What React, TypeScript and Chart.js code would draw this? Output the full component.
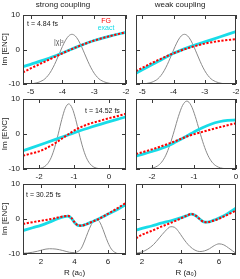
import React, { useEffect, useRef } from "react";
import { Chart, registerables } from "chart.js";
Chart.register(...registerables);

// ---------- data ----------
const COL_TITLES = ["strong coupling", "weak coupling"];
const TIME_LABELS = ["t = 4.84 fs", "t = 14.52 fs", "t = 30.25 fs"];
const SERIES_NAMES = ["FG", "exact", "|χ|²"];
const Y_TITLE = "Im [ENC]";
const X_TITLE = "R (a₀)";

const Y_TICKS = [-10, 0, 10];
const X_TICKS_ROW1 = [-5, -4, -3, -2];
const X_TICKS_ROW2 = [-2, -1, 0];
const X_TICKS_ROW3 = [2, 4, 6];

// strong coupling, t = 4.84 fs
const S1_RANGE = [-5.24, -2];
const S1_DENS_X = [-5.24, -5.0, -4.8, -4.6, -4.5, -4.4, -4.3, -4.2, -4.1, -4.0, -3.9, -3.8, -3.7, -3.6, -3.5, -3.4, -3.3, -3.2, -3.1, -3.0, -2.9, -2.8, -2.6, -2.4, -2.2, -2.0];
const S1_DENS_Y = [-10, -9.93, -9.65, -8.85, -8.05, -6.89, -5.32, -3.4, -1.27, 0.87, 2.71, 3.96, 4.4, 3.96, 2.71, 0.87, -1.27, -3.4, -5.32, -6.89, -8.05, -8.85, -9.65, -9.93, -10, -10];
const S1_FG_X = [-5.24, -5.0, -4.5, -4.0, -3.5, -3.0, -2.5, -2.0];
const S1_FG_Y = [-6.6, -5.5, -3.3, -1.1, 0.9, 2.6, 3.9, 5.0];
const S1_EX_X = [-5.24, -5.0, -4.5, -4.0, -3.5, -3.0, -2.5, -2.0];
const S1_EX_Y = [-5.0, -4.3, -2.8, -1.0, 0.9, 2.6, 3.9, 5.0];

// weak coupling, t = 4.84 fs
const W1_RANGE = [-5.2, -2];
const W1_DENS_X = [-5.2, -5.0, -4.75, -4.55, -4.45, -4.35, -4.25, -4.15, -4.05, -3.95, -3.85, -3.75, -3.65, -3.55, -3.45, -3.35, -3.25, -3.15, -3.05, -2.95, -2.85, -2.75, -2.55, -2.35, -2.15, -2.0];
const W1_DENS_Y = [-10, -9.95, -9.65, -8.85, -8.05, -6.89, -5.32, -3.4, -1.27, 0.87, 2.71, 3.96, 4.4, 3.96, 2.71, 0.87, -1.27, -3.4, -5.32, -6.89, -8.05, -8.85, -9.65, -9.93, -10, -10];
const W1_FG_X = [-5.2, -5.0, -4.5, -4.0, -3.5, -3.0, -2.5, -2.0];
const W1_FG_Y = [-6.3, -5.3, -3.1, -1.1, 0.5, 1.7, 2.5, 3.0];
const W1_EX_X = [-5.2, -5.0, -4.5, -4.0, -3.5, -3.0, -2.5, -2.0];
const W1_EX_Y = [-6.9, -5.9, -3.5, -1.1, 0.7, 2.2, 3.7, 5.2];

// strong coupling, t = 14.52 fs
const S2_RANGE = [-2.46, 0.49];
const S2_DENS_X = [-2.46, -2.2, -2.05, -1.95, -1.85, -1.75, -1.65, -1.55, -1.45, -1.35, -1.25, -1.15, -1.05, -0.95, -0.85, -0.75, -0.65, -0.55, -0.45, -0.35, -0.25, -0.1, 0.2, 0.49];
const S2_DENS_Y = [-10, -10, -9.93, -9.77, -9.35, -8.42, -6.65, -3.79, 0.03, 4.14, 7.37, 8.6, 7.37, 4.14, 0.03, -3.79, -6.65, -8.42, -9.35, -9.77, -9.93, -10, -10, -10];
const S2_FG_X = [-2.46, -2.2, -2.0, -1.8, -1.6, -1.4, -1.15, -0.9, -0.7, -0.5, -0.25, 0, 0.2, 0.49];
const S2_FG_Y = [-6.2, -5.5, -4.95, -4.1, -3.0, -1.7, 0, 1.5, 2.4, 3.1, 3.8, 4.5, 5.0, 5.8];
const S2_EX_X = [-2.46, -1.8, -1.15, -0.5, 0.49];
const S2_EX_Y = [-4.8, -2.5, -0.2, 2.0, 4.9];

// weak coupling, t = 14.52 fs
const W2_RANGE = [-2.38, 0];
const W2_DENS_X = [-2.38, -2.17, -2.07, -1.97, -1.87, -1.77, -1.67, -1.57, -1.47, -1.37, -1.27, -1.17, -1.07, -0.97, -0.87, -0.77, -0.67, -0.57, -0.47, -0.37, -0.27, -0.17, 0];
const W2_DENS_Y = [-10, -9.97, -9.89, -9.67, -9.15, -8.05, -6.06, -3.0, 0.93, 5.03, 8.2, 9.4, 8.2, 5.03, 0.93, -3.0, -6.06, -8.05, -9.15, -9.67, -9.89, -9.97, -10];
const W2_FG_X = [-2.38, -2.0, -1.5, -1.17, -0.8, -0.4, 0];
const W2_FG_Y = [-5.7, -4.4, -2.3, -0.7, 0.6, 1.9, 3.1];
const W2_EX_X = [-2.38, -2.0, -1.7, -1.5, -1.3, -1.17, -1.0, -0.8, -0.6, -0.4, -0.2, 0];
const W2_EX_Y = [-6.3, -5.0, -3.8, -2.7, -1.4, -0.6, 0.6, 1.8, 2.8, 3.5, 3.9, 4.0];

// strong coupling, t = 30.25 fs
const S3_RANGE = [0.93, 7.07];
const S3_DENS_X = [0.93, 1.2, 1.5, 1.8, 2.1, 2.5, 2.9, 3.3, 3.7, 4.0, 4.2, 4.4, 4.6, 4.8, 5.0, 5.15, 5.3, 5.45, 5.6, 5.8, 6.0, 6.2, 6.4, 6.6, 7.07];
const S3_DENS_Y = [-9.8, -9.7, -9.5, -9.2, -8.8, -8.5, -8.6, -9.0, -9.5, -9.6, -9.3, -8.4, -6.3, -3.8, -1.6, -0.4, -0.1, -0.5, -1.8, -4.3, -6.8, -8.6, -9.5, -9.9, -10];
const S3_FG_X = [0.93, 1.5, 2.0, 2.5, 3.0, 3.4, 3.6, 3.8, 4.0, 4.2, 4.4, 4.7, 5.0, 5.3, 5.6, 6.0, 6.5, 7.07];
const S3_FG_Y = [-1.4, -0.9, -0.5, -0.1, 0.4, 0.8, 0.9, 0.4, -0.9, -1.8, -1.9, -1.5, -0.9, -0.3, 0.4, 1.5, 2.9, 4.6];
const S3_EX_X = [0.93, 1.5, 2.0, 2.5, 3.0, 3.4, 3.6, 3.8, 4.0, 4.2, 4.4, 4.7, 5.0, 5.3, 5.6, 6.0, 6.5, 7.07];
const S3_EX_Y = [-3.3, -2.5, -1.8, -0.9, 0.1, 0.7, 0.85, 0.3, -1.0, -1.8, -1.9, -1.5, -0.9, -0.3, 0.4, 1.4, 2.6, 4.2];

// weak coupling, t = 30.25 fs
const W3_RANGE = [1.69, 6.88];
const W3_DENS_X = [1.69, 2.0, 2.3, 2.6, 2.9, 3.2, 3.5, 3.7, 3.9, 4.1, 4.3, 4.5, 4.75, 5.0, 5.25, 5.5, 5.75, 6.0, 6.25, 6.5, 6.7, 6.88];
const W3_DENS_Y = [-9.8, -9.4, -8.6, -7.3, -5.4, -3.5, -2.2, -2.4, -3.6, -5.2, -6.7, -7.9, -8.9, -9.3, -9.1, -8.5, -7.6, -7.1, -7.4, -8.3, -9.1, -9.8];
const W3_FG_X = [1.69, 2.0, 2.5, 3.0, 3.5, 4.0, 4.3, 4.55, 4.75, 5.0, 5.2, 5.4, 5.7, 6.0, 6.4, 6.88];
const W3_FG_Y = [-5.5, -4.5, -3.4, -2.2, -1.1, 0.1, 0.9, 1.4, 1.1, 0.0, -0.8, -0.9, -0.5, 0.1, 1.1, 2.4];
const W3_EX_X = [1.69, 2.0, 2.5, 3.0, 3.5, 4.0, 4.3, 4.55, 4.75, 5.0, 5.2, 5.4, 5.7, 6.0, 6.4, 6.88];
const W3_EX_Y = [-3.2, -2.7, -2.0, -1.2, -0.5, 0.3, 0.9, 1.4, 1.1, 0.0, -0.8, -0.9, -0.4, 0.3, 1.4, 3.1];

// ---------- layout / style ----------
const FONT = "'Liberation Sans', Arial, Helvetica, sans-serif";
const RED = "#ff0000";
const CYAN = "#18dce8";
const GRAY = "#8a8a8a";
const FRAME = "#3a3a3a";
const TEXT = "#1a1a1a";

type Note = { text: string; dx: number; dy: number; color: string; align: CanvasTextAlign };

type PanelDef = {
  left: number; top: number; width: number; height: number;
  yAxisW: number; xAxisH: number; padTop: number; padRight: number;
  range: number[]; xTicks: number[];
  dens: [number[], number[]]; fg: [number[], number[]]; ex: [number[], number[]];
  showYLabels: boolean; title?: string; xTitle: boolean; notes: Note[];
};

const LEFT = { left: 0, width: 132, yAxisW: 23, padRight: 6, showYLabels: true };
const RIGHT = { left: 124, width: 116, yAxisW: 12, padRight: 4, showYLabels: false };
const ROW1 = { top: 0, height: 100, padTop: 0, xAxisH: 16 };
const ROW2 = { top: 88, height: 94, padTop: 11, xAxisH: 13 };
const ROW3 = { top: 174, height: 105, padTop: 10, xAxisH: 25 };

const PANELS: PanelDef[] = [
  {
    ...LEFT, ...ROW1, range: S1_RANGE, xTicks: X_TICKS_ROW1,
    dens: [S1_DENS_X, S1_DENS_Y], fg: [S1_FG_X, S1_FG_Y], ex: [S1_EX_X, S1_EX_Y],
    title: COL_TITLES[0], xTitle: false,
    notes: [
      { text: TIME_LABELS[0], dx: 4, dy: 9, color: TEXT, align: "left" },
      { text: SERIES_NAMES[0], dx: 83, dy: 6, color: RED, align: "center" },
      { text: SERIES_NAMES[1], dx: 83, dy: 13, color: CYAN, align: "center" },
      { text: SERIES_NAMES[2], dx: 31, dy: 27, color: "#555", align: "left" },
    ],
  },
  {
    ...RIGHT, ...ROW1, range: W1_RANGE, xTicks: X_TICKS_ROW1,
    dens: [W1_DENS_X, W1_DENS_Y], fg: [W1_FG_X, W1_FG_Y], ex: [W1_EX_X, W1_EX_Y],
    title: COL_TITLES[1], xTitle: false, notes: [],
  },
  {
    ...LEFT, ...ROW2, range: S2_RANGE, xTicks: X_TICKS_ROW2,
    dens: [S2_DENS_X, S2_DENS_Y], fg: [S2_FG_X, S2_FG_Y], ex: [S2_EX_X, S2_EX_Y],
    xTitle: false,
    notes: [{ text: TIME_LABELS[1], dx: 62, dy: 12, color: TEXT, align: "left" }],
  },
  {
    ...RIGHT, ...ROW2, range: W2_RANGE, xTicks: X_TICKS_ROW2,
    dens: [W2_DENS_X, W2_DENS_Y], fg: [W2_FG_X, W2_FG_Y], ex: [W2_EX_X, W2_EX_Y],
    xTitle: false, notes: [],
  },
  {
    ...LEFT, ...ROW3, range: S3_RANGE, xTicks: X_TICKS_ROW3,
    dens: [S3_DENS_X, S3_DENS_Y], fg: [S3_FG_X, S3_FG_Y], ex: [S3_EX_X, S3_EX_Y],
    xTitle: true,
    notes: [{ text: TIME_LABELS[2], dx: 3, dy: 11, color: TEXT, align: "left" }],
  },
  {
    ...RIGHT, ...ROW3, range: W3_RANGE, xTicks: X_TICKS_ROW3,
    dens: [W3_DENS_X, W3_DENS_Y], fg: [W3_FG_X, W3_FG_Y], ex: [W3_EX_X, W3_EX_Y],
    xTitle: true, notes: [],
  },
];

const pts = (xs: number[], ys: number[]) => xs.map((x, i) => ({ x, y: ys[i] }));

function makeChart(canvas: HTMLCanvasElement, p: PanelDef) {
  const frame = {
    id: "frame",
    afterDraw(chart: any) {
      const { ctx, chartArea: a, scales } = chart;
      ctx.save();
      ctx.strokeStyle = FRAME;
      ctx.lineWidth = 1;
      ctx.strokeRect(Math.round(a.left) + 0.5, Math.round(a.top) + 0.5, Math.round(a.right - a.left) - 1, Math.round(a.bottom - a.top) - 1);
      ctx.beginPath();
      for (const t of scales.x.ticks) {
        const px = Math.round(scales.x.getPixelForValue(t.value)) + 0.5;
        ctx.moveTo(px, a.bottom); ctx.lineTo(px, a.bottom - 4);
        ctx.moveTo(px, a.top); ctx.lineTo(px, a.top + 4);
      }
      for (const t of scales.y.ticks) {
        const py = Math.round(scales.y.getPixelForValue(t.value)) + 0.5;
        ctx.moveTo(a.left, py); ctx.lineTo(a.left + 4, py);
        ctx.moveTo(a.right, py); ctx.lineTo(a.right - 4, py);
      }
      ctx.stroke();
      ctx.font = `7px ${FONT}`;
      ctx.textBaseline = "middle";
      for (const n of p.notes) {
        ctx.fillStyle = n.color;
        ctx.textAlign = n.align;
        ctx.fillText(n.text, a.left + n.dx, a.top + n.dy);
      }
      ctx.restore();
    },
  };

  const common = { pointRadius: 0, fill: false, cubicInterpolationMode: "monotone" as const };

  return new Chart(canvas, {
    type: "line",
    data: {
      datasets: [
        { label: SERIES_NAMES[0], data: pts(p.fg[0], p.fg[1]), borderColor: RED, borderWidth: 2, borderDash: [2.2, 1.6], ...common },
        { label: SERIES_NAMES[1], data: pts(p.ex[0], p.ex[1]), borderColor: CYAN, borderWidth: 2.8, ...common },
        { label: SERIES_NAMES[2], data: pts(p.dens[0], p.dens[1]), borderColor: GRAY, borderWidth: 1, ...common },
      ],
    },
    options: {
      animation: false,
      responsive: false,
      maintainAspectRatio: false,
      devicePixelRatio: 1,
      layout: { padding: { top: p.padTop, right: p.padRight, left: 0, bottom: 0 } },
      plugins: {
        legend: { display: false },
        tooltip: { enabled: false },
        title: {
          display: !!p.title,
          text: p.title || "",
          color: TEXT,
          font: { family: FONT, size: 8, weight: "normal" },
          padding: { top: 0, bottom: 5.4 },
        },
      },
      scales: {
        x: {
          type: "linear",
          min: p.range[0],
          max: p.range[1],
          afterBuildTicks: (s: any) => { s.ticks = p.xTicks.map((v) => ({ value: v })); },
          afterFit: (s: any) => { s.height = p.xAxisH; s.paddingLeft = 0; s.paddingRight = 0; },
          grid: { display: false, drawTicks: false },
          border: { display: false },
          ticks: { autoSkip: false, maxRotation: 0, padding: 3, color: TEXT, font: { family: FONT, size: 8 } },
          title: { display: p.xTitle, text: X_TITLE, color: TEXT, font: { family: FONT, size: 8 }, padding: { top: 0, bottom: 1 } },
        },
        y: {
          type: "linear",
          min: -10,
          max: 10,
          afterBuildTicks: (s: any) => { s.ticks = Y_TICKS.map((v) => ({ value: v })); },
          afterFit: (s: any) => { s.width = p.yAxisW; s.paddingTop = 0; s.paddingBottom = 0; },
          grid: { display: false, drawTicks: false },
          border: { display: false },
          ticks: { display: p.showYLabels, padding: 3, color: TEXT, font: { family: FONT, size: 8 } },
          title: { display: p.showYLabels, text: Y_TITLE, color: TEXT, font: { family: FONT, size: 8 }, padding: { top: 0, bottom: 0 } },
        },
      },
    } as any,
    plugins: [frame],
  });
}

function Panel({ p }: { p: PanelDef }) {
  const ref = useRef<HTMLCanvasElement>(null);
  useEffect(() => {
    if (!ref.current) return;
    const chart = makeChart(ref.current, p);
    return () => chart.destroy();
  }, [p]);
  return (
    <canvas
      ref={ref}
      width={p.width}
      height={p.height}
      style={{ position: "absolute", left: p.left, top: p.top, width: p.width, height: p.height }}
    />
  );
}

export default function App() {
  return (
    <div style={{ position: "absolute", left: 0, top: 0, width: 240, height: 279, background: "#fff", overflow: "hidden" }}>
      {PANELS.map((p, i) => (
        <Panel key={i} p={p} />
      ))}
    </div>
  );
}
